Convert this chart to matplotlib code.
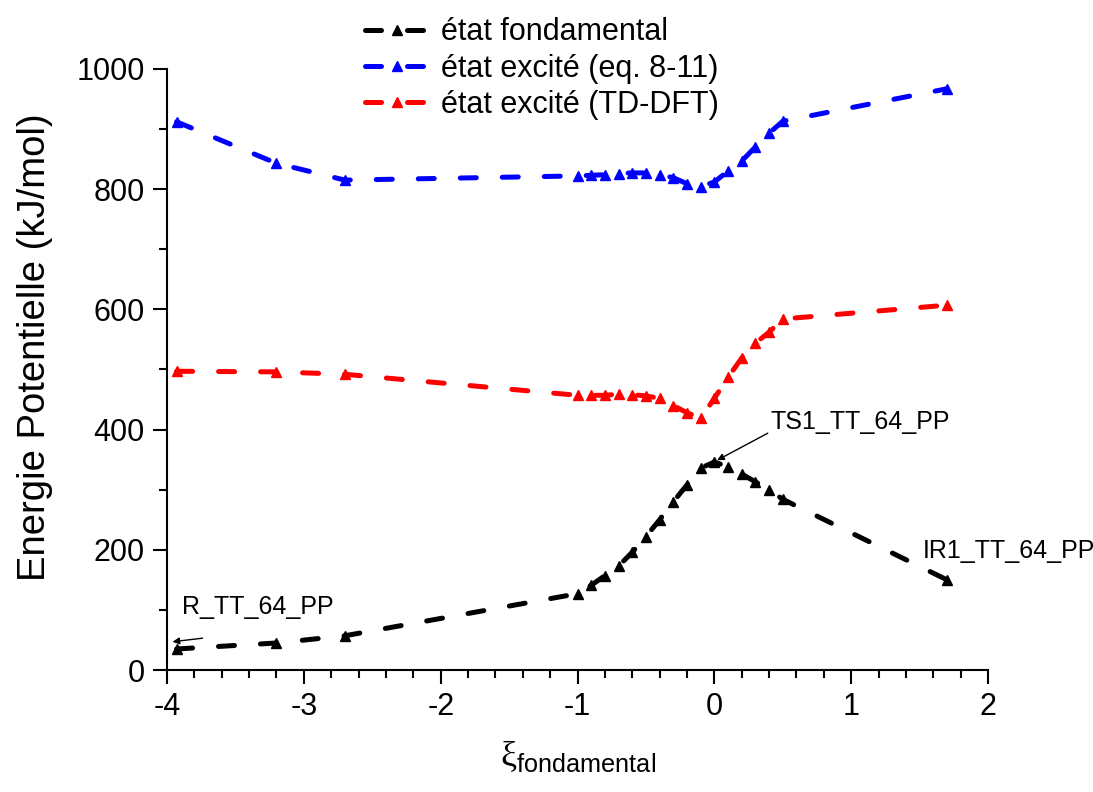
import numpy as np
import matplotlib
matplotlib.use('Agg')
import matplotlib.pyplot as plt
from matplotlib.ticker import MultipleLocator

plt.rcParams['font.family'] = ['Liberation Sans', 'DejaVu Sans']
plt.rcParams['mathtext.fontset'] = 'custom'
plt.rcParams['mathtext.rm'] = 'Liberation Serif'
plt.rcParams['mathtext.sf'] = 'Liberation Sans'
plt.rcParams['axes.unicode_minus'] = False

# reaction coordinate
xi = [-3.93, -3.2, -2.7, -1.0, -0.9, -0.8, -0.7, -0.6, -0.5, -0.4,
      -0.3, -0.2, -0.1, 0.0, 0.1, 0.2, 0.3, 0.4, 0.5, 1.7]

# energies (kJ/mol)
e_fond = [35, 45, 57, 127, 141, 157, 173, 196, 222, 250,
          280, 308, 336, 346, 338, 326, 313, 300, 284, 150]
e_exc_eq = [912, 843, 815, 822, 823, 824, 826, 827, 827, 824,
            819, 809, 804, 812, 830, 847, 870, 893, 913, 967]
e_exc_td = [497, 496, 492, 457, 457, 457, 459, 458, 456, 452,
            440, 428, 419, 452, 487, 519, 544, 562, 584, 607]

labels = ['état fondamental', 'état excité (eq. 8-11)', 'état excité (TD-DFT)']
colors = ['black', 'blue', 'red']

fig = plt.figure(figsize=(10.93, 7.92), dpi=100)
ax = fig.add_axes([0.1528, 0.154, 0.7512, 0.759])

for e, lab, c in zip([e_fond, e_exc_eq, e_exc_td], labels, colors):
    ax.plot(xi, e, color=c, lw=3.6, dashes=(3.2, 5.2), dash_capstyle='round',
            marker='^', ms=7, mec=c, mfc=c, label=lab)

ax.set_xlim(-4, 2)
ax.set_ylim(0, 1000)
ax.xaxis.set_major_locator(MultipleLocator(1))
ax.xaxis.set_minor_locator(MultipleLocator(0.2))
ax.yaxis.set_major_locator(MultipleLocator(200))
ax.yaxis.set_minor_locator(MultipleLocator(100))

for s in ['top', 'right']:
    ax.spines[s].set_visible(False)
for s in ['left', 'bottom']:
    ax.spines[s].set_linewidth(1.5)
ax.tick_params(which='major', direction='out', length=10, width=1.5, labelsize=22, pad=6)
ax.tick_params(which='minor', direction='out', length=6, width=1.5)

ax.set_ylabel('Energie Potentielle (kJ/mol)', fontsize=27.5)
ax.yaxis.set_label_coords(-0.139, 0.537)
ax.set_xlabel(r'$\mathrm{\xi}_{\mathsf{fondamental}}$', fontsize=26, labelpad=12)

# arrows and labels of the stationary points
ax.annotate('', xy=(-3.96, 47), xytext=(-3.74, 53),
            arrowprops=dict(arrowstyle='-|>', color='black', lw=1, shrinkA=0, shrinkB=0))
ax.text(-3.89, 105, 'R_TT_64_PP', fontsize=18, va='center', ha='left')
ax.annotate('', xy=(0.02, 349), xytext=(0.39, 394),
            arrowprops=dict(arrowstyle='-|>', color='black', lw=1, shrinkA=0, shrinkB=0))
ax.text(0.41, 413, 'TS1_TT_64_PP', fontsize=18, va='center', ha='left')
ax.text(1.52, 198, 'IR1_TT_64_PP', fontsize=18, va='center', ha='left')

leg = ax.legend(loc='upper left', bbox_to_anchor=(0.334, 0.978), bbox_transform=fig.transFigure,
                frameon=False, fontsize=22, handlelength=2.1, handletextpad=0.4,
                labelspacing=0.2, borderpad=0, borderaxespad=0)

fig.savefig('out.png', dpi=100)
